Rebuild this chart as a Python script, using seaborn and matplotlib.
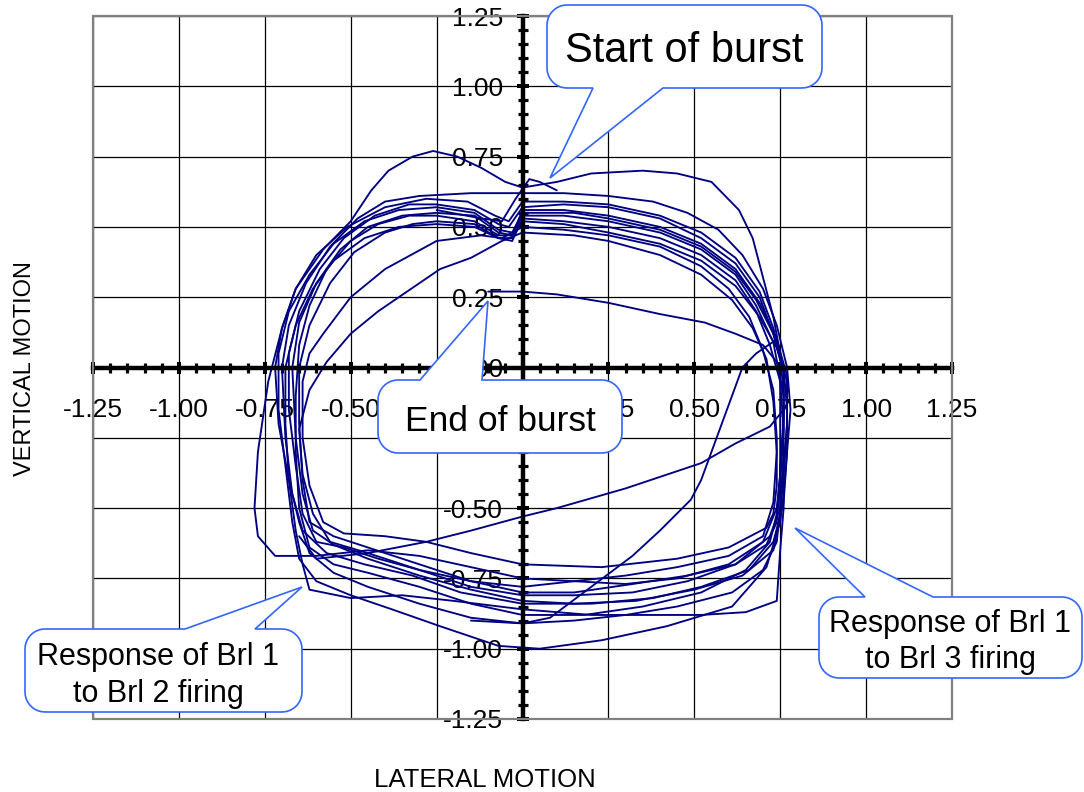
import numpy as np
import pandas as pd
import matplotlib
matplotlib.use("Agg")
import matplotlib.pyplot as plt
import seaborn as sns
from matplotlib.path import Path
from matplotlib.patches import PathPatch, Rectangle
from matplotlib.ticker import MultipleLocator, FormatStrFormatter
from matplotlib.transforms import Affine2D

# ---------------- data (lateral x, vertical y) ----------------
loop_a = [(0.00,0.64),(0.10,0.66),(0.20,0.69),(0.35,0.70),(0.45,0.69),(0.55,0.66),(0.63,0.56),(0.67,0.46),
          (0.70,0.32),(0.73,0.18),(0.75,0.05),(0.76,-0.10),(0.76,-0.30),(0.75,-0.50),(0.74,-0.62),(0.70,-0.72),
          (0.61,-0.80),(0.45,-0.85),(0.30,-0.88),(0.15,-0.90),(0.00,-0.91),(-0.15,-0.89),(-0.30,-0.84),
          (-0.45,-0.78),(-0.55,-0.73),(-0.62,-0.66),(-0.65,-0.55),(-0.68,-0.40),(-0.71,-0.20),(-0.72,0.00),
          (-0.70,0.14),(-0.66,0.28),(-0.58,0.42),(-0.50,0.52),(-0.44,0.63),(-0.39,0.70),(-0.32,0.75),
          (-0.26,0.77),(-0.19,0.75),(-0.12,0.71),(-0.05,0.66),(0.00,0.64)]
loop_b = [(0.00,0.55),(0.15,0.55),(0.25,0.53),(0.40,0.49),(0.52,0.43),(0.62,0.34),(0.68,0.24),(0.73,0.12),
          (0.76,0.00),(0.77,-0.15),(0.77,-0.30),(0.76,-0.45),(0.75,-0.55),(0.71,-0.71),(0.61,-0.85),(0.42,-0.92),
          (0.23,-0.97),(0.05,-1.00),(-0.07,-0.99),(-0.24,-0.92),(-0.38,-0.86),(-0.50,-0.81),(-0.60,-0.76),
          (-0.65,-0.68),(-0.67,-0.55),(-0.69,-0.35),(-0.71,-0.15),(-0.71,0.05),(-0.68,0.20),(-0.62,0.33),
          (-0.55,0.44),(-0.46,0.52),(-0.36,0.56),(-0.25,0.57),(-0.14,0.55),(-0.07,0.49),(-0.03,0.48),(0.00,0.55)]
loop_c = [(0.00,0.59),(0.12,0.59),(0.25,0.58),(0.40,0.54),(0.52,0.48),(0.62,0.39),(0.69,0.27),(0.73,0.14),
          (0.76,0.00),(0.76,-0.20),(0.75,-0.38),(0.74,-0.50),(0.70,-0.62),(0.60,-0.70),(0.45,-0.75),(0.30,-0.77),
          (0.15,-0.76),(0.00,-0.75),(-0.15,-0.71),(-0.30,-0.67),(-0.45,-0.65),(-0.60,-0.67),(-0.72,-0.67),
          (-0.77,-0.60),(-0.78,-0.50),(-0.77,-0.30),(-0.74,-0.05),(-0.70,0.14),(-0.66,0.28),(-0.60,0.40),
          (-0.51,0.50),(-0.40,0.57),(-0.28,0.60),(-0.16,0.59),(-0.08,0.54),(-0.04,0.52),(0.00,0.59)]
loop_d = [(0.00,0.52),(0.12,0.51),(0.25,0.48),(0.40,0.44),(0.52,0.38),(0.62,0.29),(0.69,0.18),(0.74,0.07),
          (0.77,-0.05),(0.77,-0.20),(0.76,-0.35),(0.76,-0.50),(0.75,-0.65),(0.74,-0.83),(0.65,-0.87),(0.52,-0.88),
          (0.35,-0.88),(0.20,-0.88),(0.00,-0.86),(-0.20,-0.83),(-0.35,-0.81),(-0.50,-0.82),(-0.58,-0.80),
          (-0.62,-0.79),(-0.64,-0.70),(-0.66,-0.58),(-0.68,-0.40),(-0.69,-0.20),(-0.69,0.00),(-0.66,0.15),
          (-0.61,0.28),(-0.55,0.38),(-0.46,0.46),(-0.36,0.50),(-0.25,0.51),(-0.14,0.50),(-0.07,0.46),
          (-0.03,0.46),(0.00,0.52)]
loop_e = [(0.00,0.48),(0.15,0.47),(0.25,0.45),(0.40,0.40),(0.52,0.33),(0.61,0.24),(0.67,0.14),(0.71,0.03),
          (0.73,-0.12),(0.74,-0.30),(0.73,-0.48),(0.70,-0.60),(0.60,-0.67),(0.45,-0.71),(0.30,-0.74),(0.15,-0.76),
          (0.00,-0.78),(-0.15,-0.76),(-0.30,-0.72),(-0.45,-0.66),(-0.56,-0.62),(-0.61,-0.52),(-0.64,-0.38),
          (-0.65,-0.22),(-0.62,-0.08),(-0.57,0.02),(-0.50,0.12),(-0.42,0.20),(-0.30,0.30),(-0.24,0.35),
          (-0.15,0.39),(-0.06,0.45),(0.00,0.48)]
loop_f = [(0.00,0.62),(0.12,0.62),(0.25,0.61),(0.38,0.59),(0.48,0.55),(0.57,0.49),(0.64,0.40),(0.70,0.28),
          (0.74,0.15),(0.77,0.00),(0.78,-0.15),(0.77,-0.30),(0.76,-0.48),(0.73,-0.62),(0.66,-0.72),(0.52,-0.78),
          (0.38,-0.82),(0.20,-0.84),(0.00,-0.84),(-0.18,-0.80),(-0.32,-0.74),(-0.46,-0.70),(-0.57,-0.66),
          (-0.64,-0.58),(-0.67,-0.45),(-0.69,-0.25),(-0.70,0.00),(-0.68,0.15),(-0.63,0.30),(-0.56,0.43),
          (-0.48,0.53),(-0.40,0.59),(-0.30,0.61),(-0.15,0.62),(0.00,0.62)]
loop_g = [(0.00,0.57),(0.12,0.58),(0.25,0.57),(0.40,0.53),(0.52,0.46),(0.62,0.37),(0.69,0.25),(0.73,0.12),
          (0.76,-0.02),(0.76,-0.18),(0.75,-0.35),(0.75,-0.50),(0.72,-0.60),(0.62,-0.70),(0.48,-0.76),(0.32,-0.80),
          (0.15,-0.81),(0.00,-0.81),(-0.15,-0.78),(-0.30,-0.72),(-0.42,-0.68),(-0.52,-0.64),(-0.60,-0.62),
          (-0.64,-0.52),(-0.66,-0.35),(-0.68,-0.15),(-0.68,0.05),(-0.65,0.20),(-0.59,0.35),(-0.52,0.46),
          (-0.43,0.54),(-0.33,0.58),(-0.25,0.58),(-0.14,0.56),(-0.07,0.51),(-0.04,0.50),(0.00,0.57)]
loop_h = [(0.00,0.56),(0.12,0.56),(0.25,0.54),(0.40,0.50),(0.52,0.44),(0.62,0.35),(0.69,0.23),(0.74,0.10),
          (0.77,-0.03),(0.77,-0.20),(0.76,-0.38),(0.75,-0.52),(0.73,-0.65),(0.64,-0.74),(0.50,-0.79),(0.33,-0.83),
          (0.15,-0.84),(0.00,-0.83),(-0.15,-0.79),(-0.30,-0.74),(-0.45,-0.68),(-0.55,-0.63),(-0.61,-0.58),
          (-0.64,-0.45),(-0.66,-0.25),(-0.67,0.00),(-0.65,0.16),(-0.60,0.30),(-0.53,0.42),(-0.45,0.50),
          (-0.35,0.54),(-0.25,0.55),(-0.14,0.54),(-0.07,0.48),(-0.03,0.47),(0.00,0.56)]
loop_i = [(0.00,0.54),(0.12,0.54),(0.25,0.52),(0.40,0.48),(0.52,0.42),(0.62,0.33),(0.68,0.22),(0.73,0.09),
          (0.75,-0.04),(0.75,-0.20),(0.75,-0.38),(0.74,-0.52),(0.72,-0.62),(0.65,-0.72),(0.52,-0.80),(0.35,-0.85),
          (0.18,-0.88),(0.00,-0.88),(-0.15,-0.84),(-0.30,-0.78),(-0.45,-0.73),(-0.55,-0.70),(-0.62,-0.64),
          (-0.65,-0.50),(-0.66,-0.30),(-0.66,-0.10),(-0.65,0.08),(-0.62,0.22),(-0.57,0.35),(-0.50,0.45),
          (-0.42,0.51),(-0.33,0.54),(-0.25,0.54),(-0.14,0.52),(-0.07,0.47),(-0.03,0.47),(0.00,0.54)]
loop_j = [(0.00,0.53),(0.12,0.52),(0.25,0.50),(0.40,0.46),(0.52,0.40),(0.62,0.31),(0.68,0.20),(0.72,0.08),
          (0.75,-0.05),(0.76,-0.22),(0.75,-0.40),(0.74,-0.55),(0.71,-0.63),(0.62,-0.70),(0.48,-0.74),(0.32,-0.77),
          (0.15,-0.80),(0.00,-0.80),(-0.15,-0.76),(-0.30,-0.70),(-0.45,-0.64),(-0.55,-0.60),(-0.62,-0.55),
          (-0.64,-0.40),(-0.65,-0.20),(-0.65,0.00),(-0.62,0.15),(-0.56,0.30),(-0.49,0.41),(-0.40,0.48),
          (-0.32,0.51),(-0.25,0.52),(-0.14,0.51),(-0.07,0.46),(-0.03,0.45),(0.00,0.53)]
loop_k = [(0.00,0.50),(0.12,0.49),(0.25,0.47),(0.40,0.43),(0.52,0.36),(0.60,0.28),(0.66,0.18),(0.70,0.06),
          (0.73,-0.08),(0.74,-0.25),(0.74,-0.42),(0.73,-0.52),(0.71,-0.57),(0.60,-0.64),(0.45,-0.68),(0.23,-0.71),
          (0.00,-0.70),(-0.15,-0.66),(-0.28,-0.62),(-0.40,-0.60),(-0.52,-0.59),(-0.58,-0.55),(-0.62,-0.42),
          (-0.64,-0.25),(-0.64,-0.05),(-0.62,0.05),(-0.58,0.12),(-0.50,0.25),(-0.40,0.35),(-0.25,0.45),
          (-0.12,0.47),(-0.06,0.46),(0.00,0.50)]
start_trace = [(0.10,0.63),(0.05,0.66),(0.02,0.67),(-0.02,0.60),(-0.06,0.52),(-0.12,0.53),(-0.25,0.56)]
transit_1 = [(0.76,-0.15),(0.72,-0.21),(0.62,-0.27),(0.52,-0.34),(0.30,-0.43),(0.10,-0.50),(0.00,-0.53),
             (-0.15,-0.58),(-0.28,-0.62),(-0.45,-0.66),(-0.60,-0.68),(-0.65,-0.60)]
transit_2 = [(0.74,0.10),(0.68,0.05),(0.64,0.00),(0.58,-0.20),(0.52,-0.40),(0.49,-0.47),(0.40,-0.58),
             (0.32,-0.67),(0.20,-0.78),(0.08,-0.89),(0.00,-0.91),(-0.15,-0.90)]
end_trace = [(0.76,-0.10),(0.74,0.02),(0.70,0.08),(0.62,0.12),(0.53,0.16),(0.40,0.19),(0.25,0.23),
             (0.10,0.26),(0.00,0.27),(-0.10,0.27)]

segments = {"start": start_trace, "a": loop_a, "b": loop_b, "c": loop_c, "d": loop_d, "e": loop_e,
            "f": loop_f, "g": loop_g, "h": loop_h, "i": loop_i, "j": loop_j, "k": loop_k,
            "t1": transit_1, "t2": transit_2, "end": end_trace}

tick_values = [-1.25, -1.00, -0.75, -0.50, -0.25, 0.00, 0.25, 0.50, 0.75, 1.00, 1.25]

rows = []
for name, pts in segments.items():
    for k, (x, y) in enumerate(pts):
        rows.append({"seg": name, "order": k, "x": x, "y": y})
df = pd.DataFrame(rows)

# ---------------- figure ----------------
W, H = 1084, 792
sns.set_theme(style="white")
plt.rcParams["font.family"] = ["Liberation Sans", "DejaVu Sans"]

fig = plt.figure(figsize=(W / 100, H / 100), dpi=100)
fig.patch.set_facecolor("white")
ax = fig.add_axes([93 / W, (H - 719) / H, 859 / W, 703 / H])
ax.set_facecolor("white")

sns.lineplot(data=df, x="x", y="y", units="seg", estimator=None, sort=False,
             color="#000080", linewidth=1.35, ax=ax, legend=False, zorder=3)

ax.set_xlim(tick_values[0], tick_values[-1])
ax.set_ylim(tick_values[0], tick_values[-1])
ax.set_xticks(tick_values)
ax.set_yticks(tick_values)
ax.xaxis.set_major_formatter(FormatStrFormatter("%.2f"))
ax.yaxis.set_major_formatter(FormatStrFormatter("%.2f"))
ax.xaxis.set_minor_locator(MultipleLocator(0.05))
ax.yaxis.set_minor_locator(MultipleLocator(0.05))
ax.set_xlabel("")
ax.set_ylabel("")

ax.grid(True, which="major", color="black", linewidth=0.9)
ax.set_axisbelow(True)

for s in ["top", "right"]:
    ax.spines[s].set_visible(False)
for s in ["left", "bottom"]:
    ax.spines[s].set_position(("data", 0))
    ax.spines[s].set_color("black")
    ax.spines[s].set_linewidth(3.2)
    ax.spines[s].set_zorder(4)

ax.tick_params(which="both", bottom=True, left=True, top=False, right=False)
ax.tick_params(which="major", direction="inout", length=8.4, width=2.9, color="black",
               labelsize=19, labelcolor="black")
ax.tick_params(which="minor", direction="inout", length=7.0, width=2.3, color="black")
ax.tick_params(axis="x", which="major", pad=18)
ax.tick_params(axis="y", which="major", pad=10)

ax.add_patch(Rectangle((0, 0), 1, 1, transform=ax.transAxes, fill=False,
                       edgecolor="#808080", linewidth=1.6, clip_on=False, zorder=5))

# ---------------- axis titles ----------------
fig.text(25 / W, 1 - 369 / H, "VERTICAL MOTION", rotation=90, ha="center", va="center",
         fontsize=17, color="black")
fig.text(485 / W, 1 - 780 / H, "LATERAL MOTION", ha="center", va="center",
         fontsize=18.5, color="black")

# ---------------- callouts (pixel coordinates, origin top-left) ----------------
px = Affine2D().scale(1 / W, -1 / H).translate(0, 1) + fig.transFigure
blue = "#3366ff"


def callout(x0, y0, x1, y1, r, side, b1, b2, tip):
    verts = []

    def arc(cx, cy, a0, a1):
        for t in np.linspace(a0, a1, 10):
            verts.append((cx + r * np.cos(t), cy + r * np.sin(t)))

    arc(x0 + r, y0 + r, np.pi, 1.5 * np.pi)
    if side == "top":
        verts += [(b1, y0), tip, (b2, y0)]
    arc(x1 - r, y0 + r, 1.5 * np.pi, 2 * np.pi)
    arc(x1 - r, y1 - r, 0, 0.5 * np.pi)
    if side == "bottom":
        verts += [(b2, y1), tip, (b1, y1)]
    arc(x0 + r, y1 - r, 0.5 * np.pi, np.pi)
    verts.append(verts[0])
    codes = [Path.MOVETO] + [Path.LINETO] * (len(verts) - 2) + [Path.CLOSEPOLY]
    patch = PathPatch(Path(verts, codes), facecolor="white", edgecolor=blue,
                      linewidth=1.2, transform=px, zorder=10)
    fig.add_artist(patch)


def label(x, y, s, size):
    fig.text(x, y, s, transform=px, ha="center", va="baseline", fontsize=size,
             color="black", zorder=11)


callout(547, 5, 822, 88, 20, "bottom", 593, 663, (550, 178))
label(684.5, 62, "Start of burst", 30)

callout(378, 380, 622, 453, 20, "top", 420, 482, (488, 301))
label(500, 431, "End of burst", 25.5)

callout(25, 629, 302, 712, 20, "top", 185, 255, (302, 587))
label(158, 665, "Response of Brl 1", 22)
label(158, 702, "to Brl 2 firing", 22)

callout(819, 597, 1082, 678, 20, "top", 865, 933, (795, 528))
label(950, 632, "Response of Brl 1", 22)
label(950, 668, "to Brl 3 firing", 22)

fig.savefig("out.png", dpi=100)
